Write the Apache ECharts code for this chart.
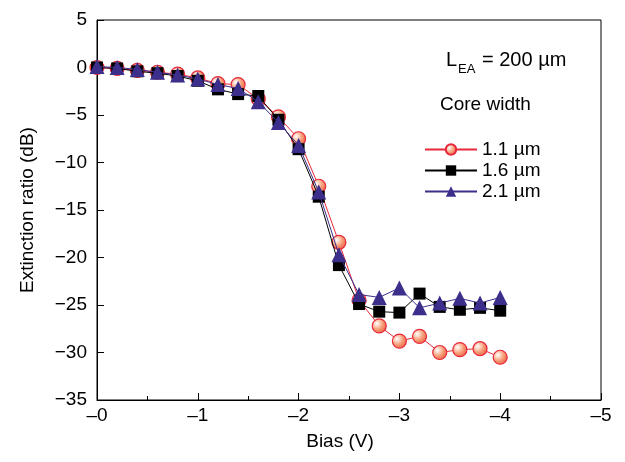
<!DOCTYPE html>
<html><head><meta charset="utf-8">
<script src="https://cdn.jsdelivr.net/npm/echarts@6/dist/echarts.min.js"></script>
<style>html,body{margin:0;padding:0;background:#fff}#c{width:625px;height:462px}</style>
</head><body><div id="c"></div>
<script>
const bias = [0,-0.2,-0.4,-0.6,-0.8,-1.0,-1.2,-1.4,-1.6,-1.8,-2.0,-2.2,-2.4,-2.6,-2.8,-3.0,-3.2,-3.4,-3.6,-3.8,-4.0];
const er11 = [0,-0.1,-0.3,-0.5,-0.7,-1.1,-1.7,-1.8,-3.3,-5.2,-7.5,-12.5,-18.4,-24.5,-27.2,-28.8,-28.3,-30.0,-29.7,-29.6,-30.5];
const er16 = [0,-0.1,-0.4,-0.6,-0.9,-1.4,-2.3,-2.8,-3.0,-5.5,-8.6,-13.6,-20.8,-24.9,-25.7,-25.8,-23.8,-25.2,-25.5,-25.3,-25.6];
const er21 = [0.1,0,-0.2,-0.5,-0.8,-1.2,-1.8,-2.2,-3.6,-5.8,-8.2,-13.1,-19.7,-23.9,-24.2,-23.2,-25.3,-24.8,-24.3,-24.8,-24.2];
const seriesNames = ['1.1 \u00b5m','1.6 \u00b5m','2.1 \u00b5m'];

const pair = arr => bias.map((b,i)=>[b,arr[i]]);
const minus = v => v < 0 ? '\u2212' + Math.abs(v) : (v === 0 ? '0' : String(v));
const F = 'Liberation Sans, Arial, sans-serif';
const FS = 19;

const chart = echarts.init(document.getElementById('c'));
chart.setOption({
  animation:false,
  textStyle:{fontFamily:F},
  grid:{left:97,right:24,top:20,bottom:62,show:true,borderColor:'#000',borderWidth:1,backgroundColor:'transparent'},
  xAxis:{type:'value',min:-5,max:0,interval:1,inverse:true,
    name:'Bias (V)',nameLocation:'middle',nameGap:32,nameTextStyle:{fontSize:FS,color:'#000',fontFamily:F,padding:[0,18,0,0]},
    axisLine:{onZero:false,lineStyle:{color:'#000',width:1}},
    axisTick:{inside:true,length:7,lineStyle:{color:'#000'}},
    minorTick:{show:true,splitNumber:2,length:4,lineStyle:{color:'#000'}},
    splitLine:{show:false},
    axisLabel:{fontSize:FS,color:'#000',margin:6,fontFamily:F,formatter:v=>'\u2013'+Math.abs(v)}},
  yAxis:{type:'value',min:-35,max:5,interval:5,
    name:'Extinction ratio (dB)',nameLocation:'middle',nameGap:60,nameRotate:90,nameTextStyle:{fontSize:FS,color:'#000',fontFamily:F},
    axisLine:{onZero:false,lineStyle:{color:'#000',width:1}},
    axisTick:{inside:true,length:7,lineStyle:{color:'#000'}},
    splitLine:{show:false},
    axisLabel:{fontSize:FS,color:'#000',margin:10,fontFamily:F,formatter:minus}},
  legend:{orient:'vertical',left:419,top:135,itemGap:2,itemWidth:52,itemHeight:13,
    textStyle:{fontSize:FS,color:'#000',fontFamily:F},
    data:seriesNames},
  graphic:[
    {type:'text',left:446,top:50,style:{text:'L',fontSize:20,fontFamily:F,fill:'#000'}},
    {type:'text',left:458,top:63,style:{text:'EA',fontSize:13,fontFamily:F,fill:'#000'}},
    {type:'text',left:482,top:50,style:{text:'= 200 \u00b5m',fontSize:20,fontFamily:F,fill:'#000'}},
    {type:'text',left:440,top:95,style:{text:'Core width',fontSize:FS,fontFamily:F,fill:'#000'}}
  ],
  series:[
    {name:seriesNames[0],type:'line',data:pair(er11),symbol:'circle',symbolSize:14,z:2,
      lineStyle:{color:'#e8283a',width:1},
      itemStyle:{color:{type:'radial',x:0.35,y:0.35,r:0.75,colorStops:[{offset:0,color:'#ffffff'},{offset:0.5,color:'#f7a07a'},{offset:1,color:'#e8553a'}]},borderColor:'#e8283a',borderWidth:1.2}},
    {name:seriesNames[1],type:'line',data:pair(er16),symbol:'rect',symbolSize:12,z:3,
      lineStyle:{color:'#000',width:1},
      itemStyle:{color:'#000'}},
    {name:seriesNames[2],type:'line',data:pair(er21),symbol:'triangle',symbolSize:15,z:4,
      lineStyle:{color:'#3c2f8c',width:1},
      itemStyle:{color:'#3c2f8c'}}
  ]
});
</script></body></html>
